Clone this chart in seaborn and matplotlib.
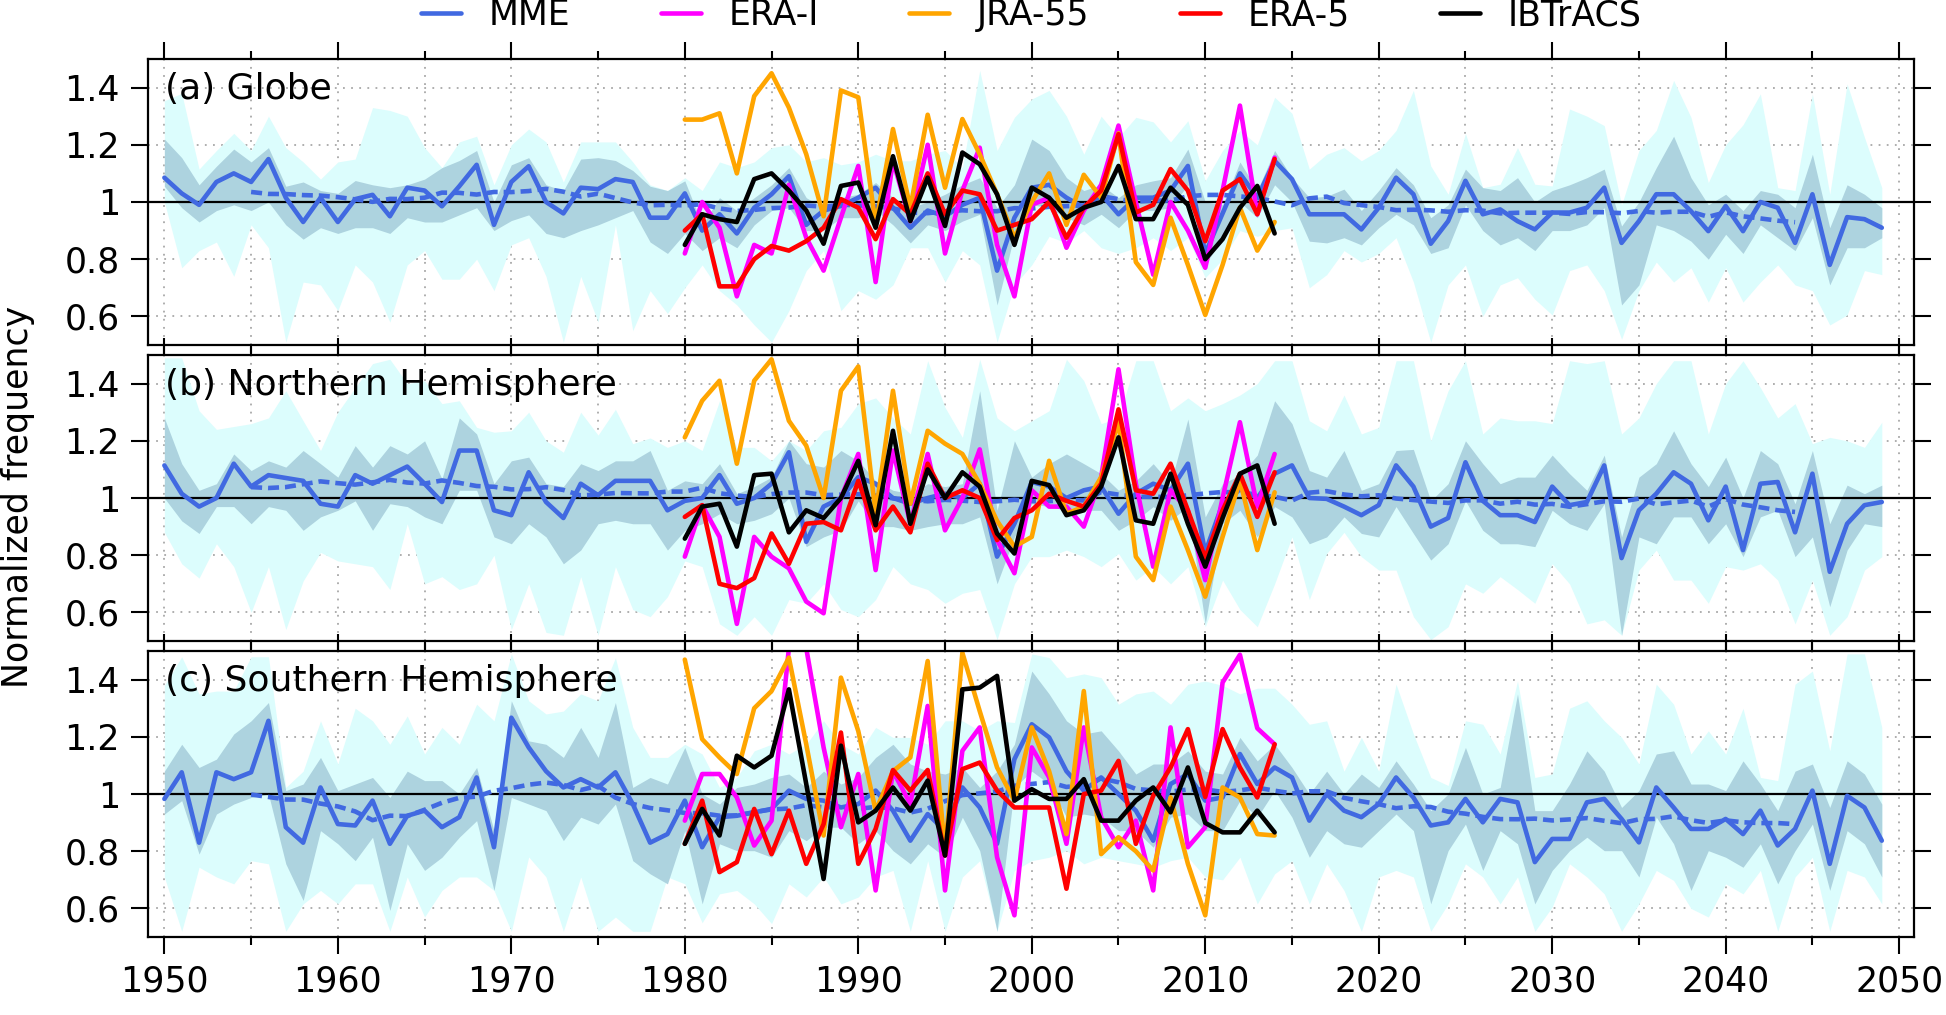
import numpy as np
import pandas as pd
import matplotlib

matplotlib.use("Agg")
import matplotlib.pyplot as plt
from matplotlib.ticker import MultipleLocator, FuncFormatter
import seaborn as sns

sns.set_style("ticks")
plt.rcParams["font.family"] = ["DejaVu Sans"]
plt.rcParams["font.size"] = 25
for key in ["text.color", "axes.labelcolor", "xtick.color", "ytick.color", "axes.edgecolor"]:
    plt.rcParams[key] = "black"

years = np.arange(1950, 2050)
rean_years = np.arange(1980, 2015)

# ---------------- (a) Globe ----------------
mme_glb = [1.085, 1.03, 0.99, 1.07, 1.10, 1.07, 1.15, 1.015, 0.93, 1.015,
           0.93, 1.01, 1.025, 0.95, 1.05, 1.04, 0.985, 1.055, 1.13, 0.92,
           1.07, 1.125, 1.0, 0.96, 1.05, 1.045, 1.08, 1.07, 0.945, 0.945,
           1.03, 0.9, 0.957, 0.89, 0.98, 1.027, 1.09, 0.92, 0.97, 0.986,
           1.015, 1.05, 0.98, 0.91, 0.97, 0.95, 0.99, 1.015, 0.76, 0.945,
           1.05, 1.06, 1.015, 0.98, 1.027, 0.957, 1.015, 1.015, 1.04, 1.126,
           0.82, 0.96, 1.10, 1.015, 1.144, 1.08, 0.957, 0.957, 0.957, 0.904,
           0.98, 1.085, 1.027, 0.854, 0.933, 1.074, 0.957, 0.974, 0.933, 0.904,
           0.963, 0.963, 0.98, 1.05, 0.857, 0.933, 1.027, 1.027, 0.968, 0.898,
           0.986, 0.898, 1.0, 0.98, 0.857, 1.027, 0.78, 0.947, 0.94, 0.91]
light_hi_glb = [1.354, 1.38, 1.115, 1.18, 1.24, 1.18, 1.30, 1.19, 1.14, 1.08,
                1.14, 1.15, 1.33, 1.32, 1.30, 1.19, 1.12, 1.21, 1.23, 1.06,
                1.20, 1.255, 1.21, 1.07, 1.21, 1.21, 1.21, 1.14, 1.06, 1.04,
                1.085, 1.04, 1.14, 1.12, 1.14, 1.19, 1.20, 1.14, 1.155, 1.13,
                1.14, 1.167, 1.144, 1.144, 1.167, 1.18, 1.12, 1.46, 1.18, 1.296,
                1.36, 1.39, 1.30, 1.167, 1.30, 1.226, 1.296, 1.28, 1.21, 1.284,
                1.074, 1.18, 1.25, 1.20, 1.366, 1.31, 1.115, 1.167, 1.19, 1.144,
                1.18, 1.25, 1.39, 1.126, 1.027, 1.24, 1.05, 1.062, 1.19, 1.062,
                1.056, 1.325, 1.30, 1.267, 0.99, 1.18, 1.25, 1.425, 1.296, 1.068,
                1.20, 1.27, 1.378, 1.05, 1.04, 1.378, 1.027, 1.413, 1.226, 1.05]
light_lo_glb = [1.0, 0.77, 0.83, 0.86, 0.74, 0.92, 0.84, 0.51, 0.72, 0.71,
                0.62, 0.78, 0.72, 0.58, 0.78, 0.83, 0.73, 0.73, 0.80, 0.69,
                0.85, 0.875, 0.74, 0.51, 0.74, 0.58, 0.92, 0.55, 0.69, 0.61,
                0.70, 0.78, 0.69, 0.64, 0.57, 0.51, 0.62, 0.76, 0.83, 0.62,
                0.69, 0.66, 0.71, 0.84, 0.84, 0.72, 0.83, 0.78, 0.51, 0.71,
                0.78, 0.88, 0.857, 0.9, 0.84, 0.82, 0.84, 0.875, 0.83, 0.875,
                0.735, 0.80, 0.9, 0.88, 0.9, 0.91, 0.7, 0.746, 0.83, 0.79,
                0.82, 0.875, 0.72, 0.51, 0.71, 0.78, 0.6, 0.71, 0.735, 0.66,
                0.605, 0.76, 0.78, 0.69, 0.52, 0.69, 0.79, 0.72, 0.77, 0.65,
                0.77, 0.65, 0.72, 0.78, 0.71, 0.69, 0.57, 0.605, 0.76, 0.746]
dark_hi_glb = [1.22, 1.155, 1.06, 1.125, 1.185, 1.14, 1.19, 1.055, 1.07, 1.04,
               1.03, 1.075, 1.06, 1.05, 1.06, 1.08, 1.12, 1.145, 1.18, 1.0,
               1.13, 1.155, 1.06, 1.04, 1.15, 1.155, 1.145, 1.11, 1.055, 1.04,
               1.074, 0.92, 1.015, 0.97, 1.015, 1.06, 1.12, 1.015, 0.98, 1.015,
               1.027, 1.068, 1.015, 0.98, 1.0, 1.027, 1.06, 1.085, 0.98, 1.06,
               1.22, 1.18, 1.085, 1.04, 1.06, 1.015, 1.06, 1.074, 1.085, 1.185,
               1.0, 0.99, 1.14, 1.04, 1.18, 1.085, 1.015, 1.02, 1.045, 0.97,
               1.04, 1.12, 1.06, 0.945, 0.99, 1.115, 1.05, 1.04, 1.085, 1.0,
               1.04, 1.06, 1.085, 1.115, 0.916, 1.0, 1.12, 1.23, 1.085, 0.99,
               1.027, 0.97, 1.04, 1.027, 0.98, 1.167, 0.91, 1.06, 1.027, 0.98]
dark_lo_glb = [1.055, 0.98, 0.93, 0.97, 0.99, 0.97, 1.0, 0.92, 0.87, 0.91,
               0.89, 0.91, 0.91, 0.89, 0.945, 0.93, 0.93, 0.955, 0.98, 0.90,
               0.935, 0.955, 0.89, 0.875, 0.90, 0.92, 0.945, 0.97, 0.86, 0.82,
               0.89, 0.83, 0.875, 0.84, 0.92, 0.97, 0.98, 0.9, 0.9, 0.945,
               0.945, 0.97, 0.92, 0.857, 0.92, 0.9, 0.933, 0.957, 0.64, 0.887,
               0.99, 0.98, 0.945, 0.92, 0.957, 0.91, 0.97, 0.97, 0.98, 1.06,
               0.78, 0.875, 1.0, 0.945, 1.06, 1.0, 0.863, 0.857, 0.875, 0.85,
               0.91, 0.957, 0.92, 0.82, 0.84, 0.99, 0.9, 0.85, 0.875, 0.83,
               0.9, 0.9, 0.92, 0.98, 0.64, 0.71, 0.92, 0.9, 0.863, 0.8,
               0.887, 0.82, 0.92, 0.875, 0.83, 0.945, 0.71, 0.84, 0.84, 0.875]
era_i_glb = [0.82, 1.0, 0.91, 0.67, 0.85, 0.82, 1.06, 0.875, 0.76, 0.945,
             1.126, 0.72, 1.144, 0.933, 1.2, 0.82, 1.04, 1.19, 0.85, 0.67,
             0.99, 1.015, 0.84, 0.97, 1.06, 1.267, 1.0, 0.746, 1.0, 0.9,
             0.77, 1.04, 1.337, 0.957, 1.155]
jra_glb = [1.288, 1.288, 1.31, 1.10, 1.37, 1.45, 1.33, 1.167, 0.95, 1.39,
           1.366, 0.92, 1.255, 0.98, 1.305, 1.05, 1.29, 1.167, 1.027, 0.875,
           1.0, 1.10, 0.92, 1.095, 1.015, 1.24, 0.79, 0.71, 0.945, 0.78,
           0.605, 0.78, 0.98, 0.83, 0.93]
era5_glb = [0.90, 0.957, 0.705, 0.705, 0.80, 0.846, 0.83, 0.863, 0.91, 1.01,
            0.98, 0.87, 1.01, 0.957, 1.10, 0.957, 1.04, 1.027, 0.90, 0.92,
            0.94, 1.0, 0.875, 0.98, 1.04, 1.237, 0.963, 0.99, 1.115, 1.04,
            0.863, 1.04, 1.08, 0.957, 1.15]
ibt_glb = [0.85, 0.957, 0.94, 0.93, 1.08, 1.10, 1.04, 0.97, 0.854, 1.056,
           1.068, 0.91, 1.16, 0.933, 1.085, 0.916, 1.173, 1.132, 1.027, 0.85,
           1.05, 1.015, 0.945, 0.98, 1.0, 1.126, 0.94, 0.94, 1.05, 0.99,
           0.80, 0.87, 0.98, 1.056, 0.89]

# ---------------- (b) Northern Hemisphere ----------------
mme_nh = [1.114, 1.015, 0.97, 1.0, 1.12, 1.04, 1.08, 1.07, 1.06, 0.98,
          0.97, 1.08, 1.05, 1.08, 1.11, 1.05, 0.986, 1.166, 1.166, 0.957,
          0.94, 1.09, 0.986, 0.93, 1.05, 1.01, 1.06, 1.06, 1.06, 0.957,
          0.99, 1.0, 1.08, 0.98, 1.0, 1.05, 1.16, 0.847, 0.97, 1.0,
          1.073, 1.05, 1.0, 0.98, 1.0, 1.015, 1.0, 1.05, 0.795, 0.91,
          1.056, 1.04, 1.0, 1.027, 1.04, 0.945, 1.015, 1.05, 1.027, 1.12,
          0.81, 0.98, 1.03, 1.0, 1.085, 1.114, 1.0, 0.997, 0.97, 0.94,
          0.975, 1.114, 1.04, 0.9, 0.93, 1.125, 0.99, 0.94, 0.94, 0.916,
          1.04, 0.975, 0.986, 1.114, 0.79, 0.957, 1.015, 1.09, 1.05, 0.922,
          1.04, 0.818, 1.05, 1.056, 0.88, 1.085, 0.742, 0.91, 0.975, 0.986]
light_hi_nh = [1.49, 1.49, 1.305, 1.24, 1.25, 1.26, 1.28, 1.375, 1.27, 1.166,
               1.30, 1.386, 1.47, 1.485, 1.40, 1.41, 1.33, 1.34, 1.247, 1.23,
               1.235, 1.30, 1.20, 1.16, 1.30, 1.22, 1.31, 1.19, 1.21, 1.177,
               1.20, 1.166, 1.34, 1.177, 1.177, 1.13, 1.2, 1.166, 1.235, 1.247,
               1.33, 1.35, 1.28, 1.224, 1.48, 1.317, 1.212, 1.485, 1.28, 1.235,
               1.27, 1.305, 1.485, 1.41, 1.26, 1.28, 1.48, 1.48, 1.305, 1.35,
               1.305, 1.33, 1.36, 1.40, 1.48, 1.48, 1.27, 1.235, 1.36, 1.224,
               1.247, 1.48, 1.48, 1.20, 1.375, 1.48, 1.224, 1.28, 1.27, 1.27,
               1.26, 1.48, 1.47, 1.48, 1.224, 1.28, 1.40, 1.48, 1.48, 1.224,
               1.40, 1.48, 1.386, 1.28, 1.33, 1.19, 1.212, 1.20, 1.177, 1.265]
light_lo_nh = [0.88, 0.77, 0.72, 0.84, 0.76, 0.6, 0.76, 0.54, 0.71, 0.81,
               0.78, 0.77, 0.76, 0.68, 0.91, 0.70, 0.725, 0.68, 0.70, 0.80,
               0.54, 0.70, 0.53, 0.52, 0.725, 0.52, 0.76, 0.61, 0.585, 0.655,
               0.78, 0.76, 0.56, 0.52, 0.585, 0.52, 0.645, 0.632, 0.70, 0.61,
               0.585, 0.645, 0.76, 0.70, 0.68, 0.632, 0.667, 0.68, 0.505, 0.70,
               0.795, 0.795, 0.818, 0.795, 0.76, 0.806, 0.713, 0.76, 0.70, 0.76,
               0.55, 0.713, 0.61, 0.55, 0.70, 0.864, 0.645, 0.806, 0.88, 0.795,
               0.748, 0.748, 0.585, 0.505, 0.55, 0.70, 0.667, 0.725, 0.68, 0.632,
               0.77, 0.70, 0.56, 0.574, 0.52, 0.748, 0.818, 0.713, 0.713, 0.632,
               0.76, 0.748, 0.77, 0.713, 0.56, 0.713, 0.52, 0.585, 0.748, 0.795]
dark_hi_nh = [1.28, 1.12, 1.027, 1.05, 1.154, 1.096, 1.13, 1.108, 1.166, 1.12,
              1.073, 1.183, 1.108, 1.183, 1.154, 1.20, 1.067, 1.28, 1.224, 1.05,
              1.13, 1.143, 1.05, 1.04, 1.12, 1.096, 1.13, 1.13, 1.166, 1.027,
              1.06, 1.05, 1.12, 1.015, 1.04, 1.073, 1.2, 1.12, 1.108, 1.166,
              1.13, 1.06, 1.027, 1.015, 1.05, 1.04, 1.05, 1.375, 0.957, 1.20,
              1.073, 1.12, 1.154, 1.12, 1.085, 1.027, 1.06, 1.12, 1.05, 1.276,
              0.934, 1.05, 1.08, 1.15, 1.34, 1.26, 1.096, 1.073, 1.166, 1.027,
              1.05, 1.166, 1.17, 0.99, 1.05, 1.20, 1.12, 1.05, 1.073, 1.073,
              1.15, 1.085, 1.027, 1.15, 0.864, 1.073, 1.12, 1.235, 1.12, 1.04,
              1.143, 1.0, 1.166, 1.12, 0.98, 1.166, 0.91, 1.045, 1.015, 1.045]
dark_lo_nh = [1.0, 0.92, 0.876, 0.97, 0.97, 0.91, 0.97, 0.957, 0.887, 0.934,
              0.957, 0.99, 0.887, 0.98, 0.97, 0.934, 0.91, 1.027, 1.027, 0.864,
              0.84, 0.91, 0.864, 0.77, 0.818, 0.91, 0.922, 0.91, 0.91, 0.818,
              0.887, 0.91, 0.945, 0.91, 0.922, 0.945, 1.0, 0.83, 0.864, 0.887,
              0.99, 0.9, 0.9, 0.887, 0.9, 0.91, 0.91, 0.934, 0.70, 0.864,
              0.98, 0.97, 0.957, 0.957, 0.957, 0.887, 0.922, 0.97, 0.922, 0.97,
              0.56, 0.91, 0.957, 0.864, 0.97, 0.934, 0.84, 0.864, 0.934, 0.876,
              0.864, 0.97, 0.876, 0.783, 0.84, 0.99, 0.887, 0.84, 0.84, 0.83,
              0.957, 0.91, 0.887, 0.98, 0.52, 0.864, 0.84, 0.934, 0.934, 0.84,
              0.91, 0.795, 0.934, 0.957, 0.795, 0.864, 0.62, 0.818, 0.91, 0.9]
era_i_nh = [0.795, 0.975, 0.864, 0.56, 0.864, 0.795, 0.754, 0.638, 0.597, 1.0,
            1.154, 0.748, 1.166, 0.91, 1.154, 0.887, 1.0, 1.17, 0.853, 0.737,
            1.027, 0.97, 0.97, 0.9, 1.073, 1.45, 1.05, 0.76, 1.027, 0.957,
            0.713, 1.0, 1.265, 0.97, 1.154]
jra_nh = [1.212, 1.34, 1.41, 1.12, 1.41, 1.485, 1.27, 1.183, 1.0, 1.375,
          1.46, 0.945, 1.375, 0.98, 1.235, 1.19, 1.154, 1.05, 0.92, 0.83,
          0.864, 1.13, 0.945, 0.97, 1.073, 1.265, 0.795, 0.713, 0.97, 0.818,
          0.655, 0.864, 1.06, 0.818, 1.02]
era5_nh = [0.934, 0.975, 0.70, 0.685, 0.72, 0.876, 0.77, 0.91, 0.916, 0.887,
           1.06, 0.887, 0.97, 0.88, 1.12, 1.0, 1.027, 1.0, 0.853, 0.93,
           0.957, 1.015, 0.99, 0.97, 1.05, 1.31, 1.027, 1.015, 1.12, 0.957,
           0.79, 0.957, 1.085, 0.934, 1.09]
ibt_nh = [0.858, 0.97, 0.98, 0.83, 1.08, 1.085, 0.88, 0.957, 0.93, 1.0,
          1.13, 0.905, 1.235, 0.91, 1.10, 1.0, 1.09, 1.04, 0.876, 0.806,
          1.06, 1.045, 0.94, 0.957, 1.04, 1.212, 0.922, 0.91, 1.085, 0.91,
          0.76, 0.93, 1.085, 1.114, 0.91]

# ---------------- (c) Southern Hemisphere ----------------
mme_sh = [0.983, 1.076, 0.83, 1.076, 1.052, 1.076, 1.256, 0.884, 0.83, 1.023,
          0.895, 0.89, 0.977, 0.826, 0.924, 0.942, 0.884, 0.919, 1.058, 0.814,
          1.267, 1.163, 1.08, 1.023, 1.052, 1.023, 1.076, 0.965, 0.83, 0.86,
          0.977, 0.814, 0.919, 0.924, 0.936, 0.948, 1.012, 0.983, 0.977, 0.953,
          0.965, 1.012, 0.942, 0.837, 0.93, 0.872, 1.023, 0.953, 0.826, 1.122,
          1.244, 1.198, 1.08, 1.012, 1.058, 1.0, 0.942, 0.837, 1.035, 1.07,
          0.977, 0.988, 1.14, 1.035, 1.093, 1.058, 0.907, 1.0, 0.942, 0.919,
          0.965, 1.058, 0.988, 0.89, 0.901, 0.983, 0.901, 0.983, 0.971, 0.762,
          0.843, 0.843, 0.971, 0.983, 0.913, 0.831, 1.023, 0.953, 0.878, 0.878,
          0.913, 0.86, 0.942, 0.82, 0.878, 1.012, 0.756, 0.994, 0.953, 0.837]
light_hi_sh = [1.38, 1.48, 1.35, 1.36, 1.36, 1.48, 1.48, 1.023, 1.08, 1.256,
               1.105, 1.30, 1.256, 1.174, 1.273, 1.14, 1.233, 1.174, 1.314, 1.256,
               1.49, 1.326, 1.28, 1.29, 1.35, 1.326, 1.477, 1.233, 1.128, 1.128,
               1.174, 1.14, 1.023, 1.058, 1.151, 1.174, 1.14, 1.174, 1.256, 1.174,
               1.14, 1.233, 1.198, 1.198, 1.174, 1.256, 1.256, 1.221, 1.256, 1.25,
               1.49, 1.477, 1.407, 1.42, 1.407, 1.314, 1.35, 1.36, 1.314, 1.384,
               1.395, 1.38, 1.35, 1.37, 1.37, 1.314, 1.244, 1.256, 1.08, 1.198,
               1.08, 1.384, 1.21, 1.058, 1.03, 1.256, 1.244, 1.14, 1.395, 1.058,
               1.07, 1.30, 1.326, 1.256, 1.198, 1.105, 1.384, 1.314, 1.14, 1.221,
               1.14, 1.30, 1.058, 1.047, 1.384, 1.43, 1.151, 1.49, 1.49, 1.233]
light_lo_sh = [0.71, 0.52, 0.744, 0.71, 0.686, 0.767, 0.756, 0.52, 0.616, 0.663,
               0.616, 0.686, 0.686, 0.52, 0.71, 0.57, 0.663, 0.71, 0.71, 0.663,
               0.52, 0.78, 0.71, 0.52, 0.71, 0.52, 0.57, 0.52, 0.52, 0.71,
               0.686, 0.55, 0.651, 0.663, 0.616, 0.547, 0.686, 0.64, 0.71, 0.616,
               0.64, 0.71, 0.733, 0.52, 0.767, 0.52, 0.71, 0.767, 0.52, 0.733,
               0.767, 0.779, 0.802, 0.756, 0.779, 0.767, 0.756, 0.744, 0.767, 0.779,
               0.71, 0.70, 0.779, 0.616, 0.721, 0.767, 0.616, 0.756, 0.663, 0.52,
               0.71, 0.733, 0.71, 0.52, 0.616, 0.756, 0.71, 0.616, 0.71, 0.52,
               0.605, 0.756, 0.71, 0.651, 0.52, 0.616, 0.733, 0.698, 0.6, 0.57,
               0.686, 0.651, 0.733, 0.52, 0.71, 0.779, 0.52, 0.733, 0.71, 0.616]
dark_hi_sh = [1.08, 1.174, 1.093, 1.122, 1.21, 1.256, 1.32, 1.012, 1.035, 1.128,
              1.012, 1.035, 1.058, 0.988, 1.08, 1.047, 1.047, 1.0, 1.093, 0.872,
              1.326, 1.186, 1.174, 1.128, 1.233, 1.128, 1.32, 1.023, 1.058, 1.035,
              1.163, 1.0, 0.965, 1.023, 1.035, 1.058, 1.07, 1.023, 1.08, 1.035,
              1.058, 1.128, 1.174, 1.105, 1.08, 1.07, 1.093, 1.023, 1.08, 1.174,
              1.43, 1.35, 1.256, 1.21, 1.221, 1.151, 1.07, 1.105, 1.105, 1.151,
              1.08, 1.07, 1.198, 1.116, 1.174, 1.093, 1.0, 1.08, 1.0, 1.07,
              1.023, 1.116, 1.035, 0.942, 1.0, 1.163, 1.0, 1.023, 1.35, 0.942,
              0.942, 1.035, 1.151, 1.08, 0.953, 1.012, 1.14, 1.151, 1.035, 1.035,
              1.012, 1.116, 1.035, 0.942, 1.08, 1.105, 0.953, 1.116, 1.07, 0.965]
dark_lo_sh = [0.93, 0.977, 0.79, 0.93, 0.965, 0.988, 1.0, 0.756, 0.628, 0.872,
              0.826, 0.767, 0.849, 0.593, 0.826, 0.733, 0.779, 0.849, 0.907, 0.663,
              0.988, 0.965, 0.942, 0.837, 0.919, 0.895, 0.965, 0.767, 0.721, 0.686,
              0.872, 0.616, 0.826, 0.802, 0.802, 0.779, 0.872, 0.837, 0.884, 0.884,
              0.826, 0.872, 0.802, 0.756, 0.826, 0.779, 0.919, 0.802, 0.52, 1.023,
              1.08, 1.035, 0.919, 0.93, 0.919, 0.872, 0.872, 0.814, 0.919, 0.93,
              0.872, 0.872, 0.977, 0.919, 1.012, 0.919, 0.779, 0.872, 0.826, 0.814,
              0.872, 0.93, 0.872, 0.616, 0.802, 0.895, 0.733, 0.872, 0.826, 0.616,
              0.733, 0.802, 0.849, 0.802, 0.802, 0.71, 0.919, 0.826, 0.663, 0.802,
              0.779, 0.744, 0.826, 0.686, 0.802, 0.895, 0.663, 0.872, 0.826, 0.71]
era_i_sh = [0.907, 1.07, 1.07, 0.988, 0.82, 0.907, 1.51, 1.51, 1.163, 0.884,
            1.07, 0.663, 1.08, 0.965, 1.308, 0.663, 1.151, 1.233, 0.779, 0.576,
            1.163, 1.058, 0.826, 1.233, 0.919, 0.814, 0.907, 0.663, 1.233, 0.814,
            0.884, 1.39, 1.487, 1.23, 1.174]
jra_sh = [1.47, 1.192, 1.128, 1.07, 1.30, 1.36, 1.477, 1.174, 0.855, 1.407,
          1.22, 0.942, 1.08, 1.128, 1.465, 0.80, 1.494, 1.29, 1.093, 0.977,
          1.233, 1.08, 0.86, 1.36, 0.79, 0.849, 0.80, 0.733, 0.988, 0.756,
          0.576, 1.023, 0.988, 0.86, 0.855]
era5_sh = [0.826, 0.977, 0.727, 0.762, 0.948, 0.79, 0.942, 0.756, 0.895, 1.215,
           0.756, 0.878, 1.084, 1.012, 1.084, 0.785, 1.087, 1.11, 1.012, 0.953,
           0.953, 0.953, 0.669, 1.0, 1.012, 1.116, 0.826, 0.994, 1.093, 1.227,
           0.99, 1.227, 1.093, 0.988, 1.174]
ibt_sh = [0.826, 0.948, 0.855, 1.134, 1.093, 1.134, 1.366, 1.035, 0.703, 1.169,
          0.901, 0.942, 1.023, 0.942, 1.047, 0.785, 1.366, 1.372, 1.413, 0.977,
          1.017, 0.983, 0.983, 1.052, 0.907, 0.907, 0.977, 1.023, 0.936, 1.093,
          0.899, 0.866, 0.866, 0.942, 0.866]

panels = [
    ("(a) Globe", mme_glb, light_lo_glb, light_hi_glb, dark_lo_glb, dark_hi_glb,
     era_i_glb, jra_glb, era5_glb, ibt_glb),
    ("(b) Northern Hemisphere", mme_nh, light_lo_nh, light_hi_nh, dark_lo_nh, dark_hi_nh,
     era_i_nh, jra_nh, era5_nh, ibt_nh),
    ("(c) Southern Hemisphere", mme_sh, light_lo_sh, light_hi_sh, dark_lo_sh, dark_hi_sh,
     era_i_sh, jra_sh, era5_sh, ibt_sh),
]

rean_colors = {"ERA-I": "magenta", "JRA-55": "orange", "ERA-5": "red", "IBTrACS": "black"}
LW = 3.3

fig, axs = plt.subplots(3, 1, figsize=(19.46, 10.15), dpi=100, sharex=True)
plt.subplots_adjust(left=0.076, right=0.9835, bottom=0.0768, top=0.9419, hspace=0.035)

for i, (title, mme, llo, lhi, dlo, dhi, erai, jra, era5, ibt) in enumerate(panels):
    ax = axs[i]
    ax.fill_between(years, llo, lhi, color="#dcfdfd", lw=0, zorder=1)
    ax.fill_between(years, dlo, dhi, color="#add3df", lw=0, zorder=2)
    ax.axhline(1.0, color="black", lw=1.6, zorder=3)

    # 11-year centred running mean of the MME (dashed)
    smooth = pd.Series(mme, index=years).rolling(11, center=True).mean()
    sns.lineplot(x=years, y=smooth.values, ax=ax, color="royalblue", linewidth=LW,
                 legend=False, zorder=4)
    ax.lines[-1].set_dashes([2.4, 1.3])
    sns.lineplot(x=years, y=mme, ax=ax, color="royalblue", linewidth=LW,
                 legend=False, zorder=5, label="MME")
    for name, vals in zip(["ERA-I", "JRA-55", "ERA-5", "IBTrACS"], [erai, jra, era5, ibt]):
        sns.lineplot(x=rean_years, y=vals, ax=ax, color=rean_colors[name], linewidth=LW,
                     legend=False, zorder=6, label=name)

    ax.set_xlim(1949.05, 2050.85)
    ax.set_ylim(0.5, 1.5)
    ax.set_yticks([0.6, 0.8, 1.0, 1.2, 1.4])
    ax.yaxis.set_major_formatter(FuncFormatter(lambda v, _: f"{v:g}"))
    ax.xaxis.set_major_locator(MultipleLocator(10))
    ax.xaxis.set_minor_locator(MultipleLocator(5))
    ax.grid(which="both", axis="x", color="#a8a8a8", linestyle=(0, (1, 3.5)), lw=1.3)
    ax.grid(which="major", axis="y", color="#a8a8a8", linestyle=(0, (1, 3.5)), lw=1.3)
    ax.tick_params(which="major", direction="out", top=True, right=True,
                   length=12, width=1.5, labelsize=25, pad=8)
    ax.tick_params(which="minor", direction="out", top=True, right=True,
                   length=6, width=1.5)
    ax.tick_params(axis="y", which="minor", left=False, right=False)
    for sp in ax.spines.values():
        sp.set_linewidth(1.6)
        sp.set_zorder(10)
    ax.set_xlabel("")
    ax.set_ylabel("")
    ax.text(0.0095, 0.895, title, transform=ax.transAxes, fontsize=26,
            ha="left", va="center", zorder=10)
    if i < 2:
        ax.tick_params(labelbottom=False)
    for gl in ax.get_xgridlines() + ax.get_ygridlines():
        gl.set_zorder(2.5)

handles, labels = axs[0].get_legend_handles_labels()
fig.legend(handles, labels, loc="center", bbox_to_anchor=(0.53, 0.985), ncol=5,
           frameon=False, fontsize=25, handlelength=1.15, handletextpad=0.8,
           columnspacing=2.6, borderaxespad=0)

fig.text(0.0095, 0.51, "Normalized frequency", rotation=90, ha="center",
         va="center", fontsize=25)

fig.savefig("out.png", dpi=100)
